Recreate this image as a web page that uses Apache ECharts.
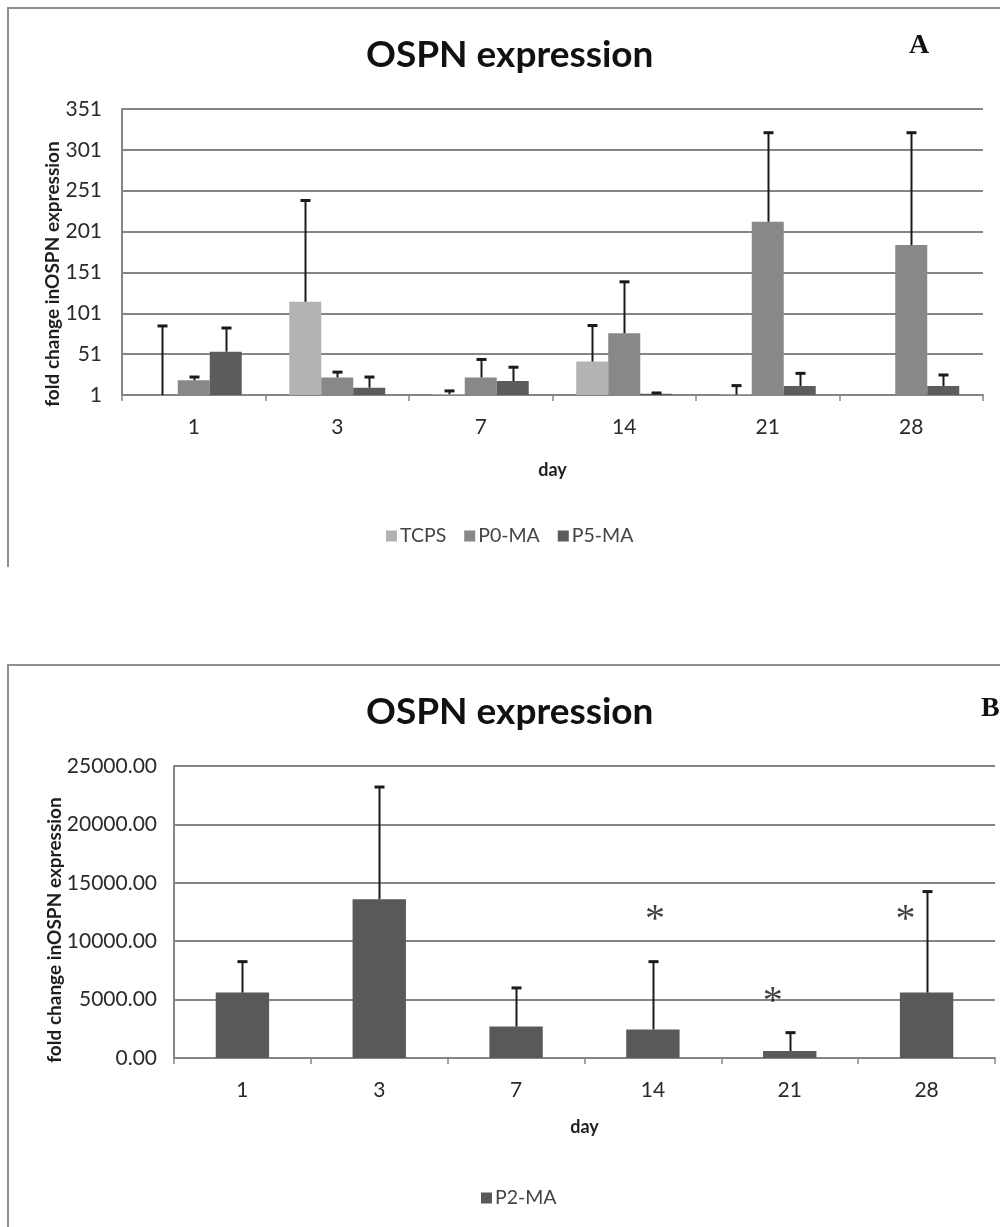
<!DOCTYPE html>
<html>
<head>
<meta charset="utf-8">
<script src="https://cdn.jsdelivr.net/npm/echarts@6/dist/echarts.min.js"></script>
<style>
html,body{margin:0;padding:0;background:#fff;}
#chart{width:1000px;height:1227px;}
</style>
</head>
<body>
<div id="chart"></div>
<script>
// ---- data ----
var days = ['1', '3', '7', '14', '21', '28'];
var tcps = [1, 115, 2, 42, 1.5, 1];
var tcpsSd = [84.5, 124, 4, 44, 11, 0];
var p0ma = [19, 22.5, 22.5, 76.5, 213, 184.5];
var p0maSd = [4, 6.5, 22, 63, 109, 137.5];
var p5ma = [54, 10, 18, 2.5, 12, 12];
var p5maSd = [29, 13, 17, 1, 15.5, 13.5];
var p2ma = [5600, 13600, 2700, 2450, 600, 5600];
var p2maSd = [2650, 9600, 3300, 5800, 1570, 8650];
var starDays = ['14', '21', '28'];
var starValues = [12330, 5390, 12330];
var yTicksA = [1, 51, 101, 151, 201, 251, 301, 351];
var yTicksB = [0, 5000, 10000, 15000, 20000, 25000];

// ---- styles ----
var FONT = 'Lato';
var colors = {TCPS: '#b3b3b3', 'P0-MA': '#888888', 'P5-MA': '#5c5c5c', 'P2-MA': '#595959'};
var gridColor = '#858585';
var barFracA = 0.223;
var barFracB = 0.39;
var starDx = [2, -17, -21];

function errorSeries(name, vals, sds, xIdx, yIdx, slot, nSlots, frac) {
  return {
    type: 'custom',
    name: name + ' error',
    xAxisIndex: xIdx, yAxisIndex: yIdx,
    z: 5,
    silent: true,
    data: vals.map(function (v, i) { return [i, v, sds[i]]; }),
    renderItem: function (params, api) {
      var cat = api.value(0), v = api.value(1), sd = api.value(2);
      if (!sd) return null;
      var band = api.size([1, 0])[0];
      var dx = (slot - (nSlots - 1) / 2) * frac * band;
      var p1 = api.coord([cat, v]);
      var p2 = api.coord([cat, v + sd]);
      var x = Math.round(p1[0] + dx) + 0.5;
      return {
        type: 'group',
        children: [
          {type: 'line', shape: {x1: x, y1: p1[1], x2: x, y2: p2[1]}, style: {stroke: '#1a1a1a', lineWidth: 2}},
          {type: 'line', shape: {x1: x - 5, y1: p2[1], x2: x + 5, y2: p2[1]}, style: {stroke: '#1a1a1a', lineWidth: 3}}
        ]
      };
    }
  };
}

function barSeries(name, vals, xIdx, yIdx, frac) {
  return {
    type: 'bar', name: name, xAxisIndex: xIdx, yAxisIndex: yIdx,
    data: vals, barWidth: (frac * 100) + '%', barGap: '0%',
    itemStyle: {color: colors[name]}, z: 3
  };
}

var axisLabelStyle = {color: '#2a2a2a', fontFamily: FONT, fontSize: 21};
function nameStyle(shift) {
  return {fontFamily: FONT, fontWeight: 'bold', fontSize: 19, color: '#1e1e1e', padding: [0, shift, 0, 0]};
}
var legendText = {fontFamily: FONT, fontSize: 19.5, color: '#444', padding: [0, 0, 0, -2]};

var option = {
  backgroundColor: '#fff',
  animation: false,
  title: [
    {text: 'OSPN expression', left: 361, top: 32, textStyle: {fontFamily: FONT, fontWeight: 'bold', fontSize: 37, color: '#111'}},
    {text: 'A', left: 904, top: 27, textStyle: {fontFamily: 'Liberation Serif', fontWeight: 'bold', fontSize: 28, color: '#111'}},
    {text: 'OSPN expression', left: 361, top: 689, textStyle: {fontFamily: FONT, fontWeight: 'bold', fontSize: 37, color: '#111'}},
    {text: 'B', left: 976, top: 690, textStyle: {fontFamily: 'Liberation Serif', fontWeight: 'bold', fontSize: 28, color: '#111'}}
  ],
  legend: [
    {data: ['TCPS', 'P0-MA', 'P5-MA'], left: 381, top: 521, itemWidth: 11, itemHeight: 11, itemGap: 18,
     icon: 'rect', textStyle: legendText},
    {data: ['P2-MA'], left: 476, top: 1183, itemWidth: 11, itemHeight: 11, icon: 'rect', textStyle: legendText}
  ],
  grid: [
    {left: 122, top: 109, width: 861, height: 286},
    {left: 174, top: 766, width: 821, height: 292}
  ],
  xAxis: [
    {type: 'category', gridIndex: 0, data: days, name: 'day', nameLocation: 'middle', nameGap: 66,
     nameTextStyle: {fontFamily: FONT, fontWeight: 'bold', fontSize: 18, color: '#222'},
     axisLine: {lineStyle: {color: gridColor, width: 2}},
     axisTick: {show: true, length: 6, lineStyle: {color: gridColor, width: 1.5}},
     axisLabel: Object.assign({margin: 22}, axisLabelStyle)},
    {type: 'category', gridIndex: 1, data: days, name: 'day', nameLocation: 'middle', nameGap: 60,
     nameTextStyle: {fontFamily: FONT, fontWeight: 'bold', fontSize: 18, color: '#222'},
     axisLine: {lineStyle: {color: gridColor, width: 2}},
     axisTick: {show: true, length: 6, lineStyle: {color: gridColor, width: 1.5}},
     axisLabel: Object.assign({margin: 22}, axisLabelStyle)}
  ],
  yAxis: [
    {type: 'value', gridIndex: 0, min: yTicksA[0], max: yTicksA[yTicksA.length - 1], interval: yTicksA[1] - yTicksA[0],
     name: 'fold change inOSPN expression', nameLocation: 'middle', nameGap: 60, nameRotate: 90, nameMoveOverlap: false,
     nameTextStyle: nameStyle(44),
     axisLine: {show: true, lineStyle: {color: gridColor, width: 2}},
     axisTick: {show: false},
     splitLine: {lineStyle: {color: gridColor, width: 2}},
     axisLabel: Object.assign({margin: 20}, axisLabelStyle)},
    {type: 'value', gridIndex: 1, min: yTicksB[0], max: yTicksB[yTicksB.length - 1], interval: yTicksB[1] - yTicksB[0],
     name: 'fold change inOSPN expression', nameLocation: 'middle', nameGap: 110, nameRotate: 90, nameMoveOverlap: false,
     nameTextStyle: nameStyle(36),
     axisLine: {show: true, lineStyle: {color: gridColor, width: 2}},
     axisTick: {show: false},
     splitLine: {lineStyle: {color: gridColor, width: 2}},
     axisLabel: Object.assign({margin: 17, formatter: function (v) { return v.toFixed(2); }}, axisLabelStyle)}
  ],
  graphic: [
    {type: 'polyline', shape: {points: [[8, 567], [8, 8], [1000, 8]]}, style: {stroke: '#8f8f8f', lineWidth: 2, fill: null}},
    {type: 'polyline', shape: {points: [[8, 1227], [8, 665], [1000, 665]]}, style: {stroke: '#8f8f8f', lineWidth: 2, fill: null}}
  ],
  series: [
    barSeries('TCPS', tcps, 0, 0, barFracA),
    barSeries('P0-MA', p0ma, 0, 0, barFracA),
    barSeries('P5-MA', p5ma, 0, 0, barFracA),
    errorSeries('TCPS', tcps, tcpsSd, 0, 0, 0, 3, barFracA),
    errorSeries('P0-MA', p0ma, p0maSd, 0, 0, 1, 3, barFracA),
    errorSeries('P5-MA', p5ma, p5maSd, 0, 0, 2, 3, barFracA),
    barSeries('P2-MA', p2ma, 1, 1, barFracB),
    errorSeries('P2-MA', p2ma, p2maSd, 1, 1, 0, 1, barFracB),
    {
      type: 'scatter', name: 'significance', xAxisIndex: 1, yAxisIndex: 1, symbolSize: 0, silent: true,
      data: starDays.map(function (d, i) {
        return {value: [d, starValues[i]], label: {offset: [starDx[i], 7]}};
      }),
      label: {show: true, formatter: '*', position: 'inside', fontFamily: 'Liberation Serif', fontSize: 40, color: '#111'}
    }
  ]
};

var chart = echarts.init(document.getElementById('chart'), null, {renderer: 'canvas'});
chart.setOption(option);
</script>
</body>
</html>
